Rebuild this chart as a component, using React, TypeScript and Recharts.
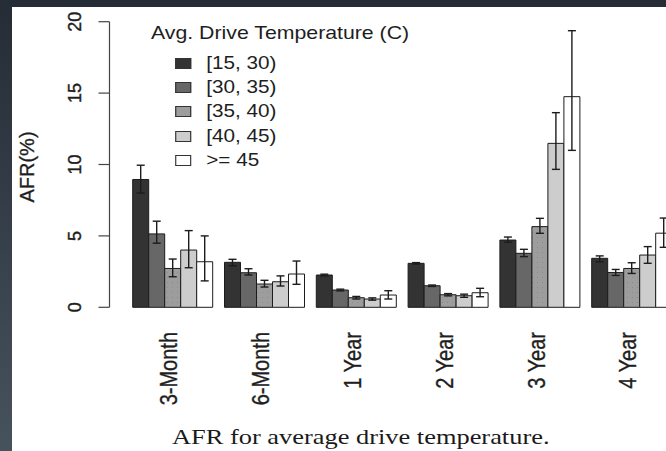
import { BarChart, Bar, XAxis, YAxis, ErrorBar } from "recharts";

const periods = ["3-Month", "6-Month", "1 Year", "2 Year", "3 Year", "4 Year"];
const tempBins = ["[15, 30)", "[30, 35)", "[35, 40)", "[40, 45)", ">= 45"];
const yTicks = [0, 5, 10, 15, 20];

// mean AFR per bin, then the low / high ends of the error bars
const afr15to30 = [8.95, 3.15, 2.26, 3.08, 4.71, 3.43];
const low15to30 = [8.0, 2.91, 2.2, 3.03, 4.55, 3.19];
const high15to30 = [9.95, 3.36, 2.32, 3.13, 4.92, 3.6];

const afr30to35 = [5.14, 2.42, 1.21, 1.51, 3.78, 2.44];
const low30to35 = [4.49, 2.26, 1.15, 1.46, 3.55, 2.23];
const high30to35 = [6.03, 2.7, 1.27, 1.56, 4.06, 2.65];

const afr35to40 = [2.72, 1.63, 0.67, 0.88, 5.65, 2.72];
const low35to40 = [2.14, 1.42, 0.58, 0.8, 5.18, 2.37];
const high35to40 = [3.38, 1.89, 0.76, 0.96, 6.23, 3.12];

const afr40to45 = [4.01, 1.79, 0.58, 0.81, 11.48, 3.66];
const low40to45 = [2.77, 1.49, 0.5, 0.7, 9.66, 3.08];
const high40to45 = [5.37, 2.2, 0.66, 0.92, 13.63, 4.25];

const afr45up = [3.19, 2.33, 0.86, 1.02, 14.75, 5.19];
const low45up = [1.85, 1.61, 0.58, 0.74, 10.99, 4.2];
const high45up = [5.0, 3.24, 1.16, 1.33, 19.37, 6.25];

const series = [
  { v: afr15to30, lo: low15to30, hi: high15to30 },
  { v: afr30to35, lo: low30to35, hi: high30to35 },
  { v: afr35to40, lo: low35to40, hi: high35to40 },
  { v: afr40to45, lo: low40to45, hi: high40to45 },
  { v: afr45up, lo: low45up, hi: high45up },
];

const fills = ["#333333", "#676767", "url(#dots)", "#cdcdcd", "#ffffff"];
const swatch = ["#333333", "#676767", "#9d9d9d", "#cdcdcd", "#ffffff"];

const data = periods.map((p, i) => {
  const row: any = { period: p };
  series.forEach((s, k) => {
    row["b" + k] = s.v[i];
    row["e" + k] = [s.v[i] - s.lo[i], s.hi[i] - s.v[i]];
  });
  return row;
});

const sans = "'Liberation Sans', Arial, Helvetica, sans-serif";
const ink = "#1e1e1e";

function PeriodTick({ x, payload }: any) {
  return (
    <g transform={`translate(${x - 4},332)`}>
      <text
        transform="scale(1.22,1) rotate(-90)"
        textAnchor="end"
        dominantBaseline="central"
        fontFamily={sans}
        fontSize={20}
        fill={ink}
        stroke={ink}
        strokeWidth={0.3}
      >
        {payload.value}
      </text>
    </g>
  );
}

function AfrTick({ y, payload }: any) {
  return (
    <text
      x={75}
      y={y}
      transform={`rotate(-90 75 ${y})`}
      textAnchor="middle"
      dominantBaseline="central"
      fontFamily={sans}
      fontSize={18}
      fill={ink}
      stroke={ink}
      strokeWidth={0.4}
    >
      {payload.value}
    </text>
  );
}

export default function App() {
  return (
    <div
      style={{
        position: "fixed",
        left: 0,
        top: 0,
        width: 666,
        height: 451,
        overflow: "hidden",
        background: "linear-gradient(#252c36, #46525c)",
      }}
    >
      <div style={{ position: "absolute", left: 12, top: 7, right: 0, bottom: 0, background: "#fff" }} />
      <div style={{ position: "absolute", left: 0, top: 0 }}>
        <BarChart
          width={690}
          height={451}
          data={data}
          margin={{ top: 21.7, right: 11.9, left: 0, bottom: 33.7 }}
          barCategoryGap={5.4}
          barGap={0}
        >
          <defs>
            <pattern id="dots" width="5" height="5" patternUnits="userSpaceOnUse">
              <rect width="5" height="5" fill="#9d9d9d" />
              <rect x="2" y="2" width="1" height="1" fill="#8a8a8a" />
            </pattern>
          </defs>
          <XAxis
            dataKey="period"
            axisLine={false}
            tickLine={false}
            height={110}
            padding={{ left: 17.8, right: 0 }}
            interval={0}
            tick={<PeriodTick />}
          />
          <YAxis
            width={109.5}
            domain={[0, 20]}
            ticks={yTicks}
            interval={0}
            tickSize={11}
            axisLine={{ stroke: "#444", strokeWidth: 1.2 }}
            tickLine={{ stroke: "#444", strokeWidth: 1.2 }}
            tick={<AfrTick />}
            label={{
              content: () => (
                <text
                  x={27}
                  y={167}
                  transform="rotate(-90 27 167)"
                  textAnchor="middle"
                  dominantBaseline="central"
                  fontFamily={sans}
                  fontSize={20}
                  fill={ink}
                  stroke={ink}
                  strokeWidth={0.3}
                >
                  AFR(%)
                </text>
              ),
            }}
          />
          {series.map((_, k) => (
            <Bar
              key={k}
              dataKey={"b" + k}
              name={tempBins[k]}
              fill={fills[k]}
              stroke="#1c1c1c"
              strokeWidth={1}
              isAnimationActive={false}
            >
              <ErrorBar dataKey={"e" + k} width={4} stroke="#1c1c1c" strokeWidth={1.4} />
            </Bar>
          ))}
        </BarChart>
      </div>

      <div
        style={{
          position: "absolute",
          left: 151,
          top: 22,
          fontFamily: sans,
          color: ink,
          transform: "scaleX(1.15)",
          transformOrigin: "left top",
        }}
      >
        <div style={{ fontSize: 18.5, lineHeight: "22px", whiteSpace: "nowrap" }}>Avg. Drive Temperature (C)</div>
        <div style={{ marginLeft: 21, marginTop: 7 }}>
          {tempBins.map((b, k) => (
            <div key={b} style={{ display: "flex", alignItems: "center", height: 24.3, fontSize: 18 }}>
              <span
                style={{
                  width: 14,
                  height: 11,
                  background: swatch[k],
                  border: "1px solid #333",
                  marginRight: 13,
                  boxSizing: "border-box",
                }}
              />
              <span style={{ whiteSpace: "nowrap" }}>{b}</span>
            </div>
          ))}
        </div>
      </div>

      <div
        style={{
          position: "absolute",
          left: 172,
          top: 424,
          fontFamily: "'Liberation Serif', 'Times New Roman', serif",
          fontSize: 22,
          color: "#1a1a1a",
          whiteSpace: "nowrap",
          transform: "scaleX(1.2)",
          transformOrigin: "left top",
        }}
      >
        AFR for average drive temperature.
      </div>
    </div>
  );
}
